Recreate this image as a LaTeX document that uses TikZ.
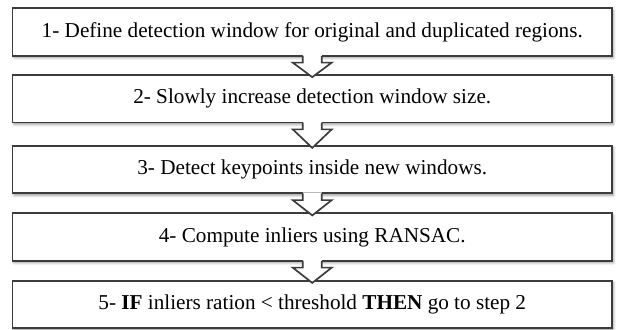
\documentclass[tikz,border=0pt]{standalone}
\usepackage{fontspec}
\setmainfont{Liberation Serif}
\usetikzlibrary{calc,shadows.blur}
\definecolor{boxline}{HTML}{3C3C3C}
\tikzset{
  stepbox/.style={draw=boxline, line width=1.7pt, fill=white,
    minimum width=599.5pt, minimum height=47.5pt, inner sep=0pt,
    font=\fontsize{21.2}{24}\selectfont,
    blur shadow={shadow xshift=1.5pt, shadow yshift=-2pt,
      shadow blur radius=2.5pt, shadow opacity=40}},
  flowline/.style={draw=boxline, line width=1.7pt, line join=miter}
}
% Hollow block arrow hanging from the bottom of box #1 into the top of box #2
\newcommand\flowarrow[2]{%
  \fill[white]
    ([xshift=-9.5pt,yshift=1.8pt]#1.south) -- ([xshift=-9.5pt,yshift=-6pt]#1.south)
    -- ([xshift=-19.5pt,yshift=-6pt]#1.south) -- ([yshift=-3pt]#2.north)
    -- ([xshift=19.5pt,yshift=-6pt]#1.south) -- ([xshift=9.5pt,yshift=-6pt]#1.south)
    -- ([xshift=9.5pt,yshift=1.8pt]#1.south) -- cycle;
  \draw[flowline]
    ([xshift=-9.5pt,yshift=0.85pt]#1.south) -- ([xshift=-9.5pt,yshift=-6pt]#1.south)
    -- ([xshift=-19.5pt,yshift=-6pt]#1.south) -- ([yshift=-3pt]#2.north)
    -- ([xshift=19.5pt,yshift=-6pt]#1.south) -- ([xshift=9.5pt,yshift=-6pt]#1.south)
    -- ([xshift=9.5pt,yshift=0.85pt]#1.south);
}
\begin{document}
\begin{tikzpicture}[x=1pt,y=-1pt]
  \useasboundingbox (0,0) rectangle (620,329);
  \node[stepbox] (b1) at (312.25,32)    {1- Define detection window for original and duplicated regions.};
  \node[stepbox] (b2) at (312.25,98.75) {2- Slowly increase detection window size.};
  \node[stepbox] (b3) at (312.25,169.5) {3- Detect keypoints inside new windows.};
  \node[stepbox] (b4) at (312.25,237)   {4- Compute inliers using RANSAC.};
  \node[stepbox] (b5) at (312.25,304.5) {5- \textbf{IF} inliers ration < threshold \textbf{THEN} go to step 2};
  \flowarrow{b1}{b2}
  \flowarrow{b2}{b3}
  \flowarrow{b3}{b4}
  \flowarrow{b4}{b5}
\end{tikzpicture}
\end{document}
